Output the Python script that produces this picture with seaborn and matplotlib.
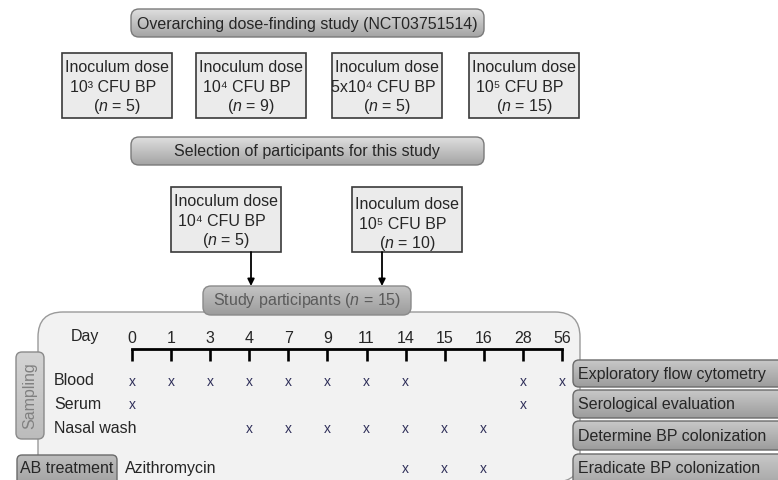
import numpy as np
import matplotlib
matplotlib.use("Agg")
import matplotlib.pyplot as plt
import seaborn as sns
from matplotlib.patches import FancyBboxPatch, Rectangle
from matplotlib.colors import LinearSegmentedColormap

sns.set_style("white")
plt.rcParams['font.family'] = ['Liberation Sans', 'DejaVu Sans']
plt.rcParams['mathtext.fontset'] = 'custom'
plt.rcParams['mathtext.rm'] = 'Liberation Sans'
plt.rcParams['mathtext.it'] = 'Liberation Sans:italic'

# Study content
study_title = "Overarching dose-finding study (NCT03751514)"
selection_title = "Selection of participants for this study"
dose_labels = ["10³", "10⁴", "5x10⁴", "10⁵"]
dose_n = [5, 9, 5, 15]
selected_labels = ["10⁴", "10⁵"]
selected_n = [5, 10]
participants_n = 15

days = ["0", "1", "3", "4", "7", "9", "11", "14", "15", "16", "28", "56"]
sample_types = ["Blood", "Serum", "Nasal wash"]
blood_days = ["0", "1", "3", "4", "7", "9", "11", "14", "28", "56"]
serum_days = ["0", "28"]
nasal_days = ["4", "7", "9", "11", "14", "15", "16"]
azithro_days = ["14", "15", "16"]
purposes = ["Exploratory flow cytometry", "Serological evaluation",
            "Determine BP colonization", "Eradicate BP colonization"]

FS = 11.5
W, H = 778, 481
fig = plt.figure(figsize=(W / 100, H / 100), dpi=100)
ax = fig.add_axes([0, 0, 1, 1])
ax.axis('off')


def pill(x0, y0, x1, y1, top, bottom, edge='#7a7a7a', r=8, z=3):
    patch = FancyBboxPatch((x0, y0), x1 - x0, y1 - y0,
                           boxstyle=f"round,pad=0,rounding_size={r}",
                           fc='none', ec=edge, lw=1, zorder=z + 0.1)
    ax.add_patch(patch)
    cmap = LinearSegmentedColormap.from_list('g', [top, bottom])
    grad = np.linspace(0, 1, 64)[:, None]
    im = ax.imshow(grad, extent=(x0, x1, y1, y0), cmap=cmap, aspect='auto',
                   origin='upper', zorder=z)
    im.set_clip_path(patch)


def dose_box(x0, y0, lines, dy=0):
    ax.add_patch(Rectangle((x0, y0), 110, 65, fc='#ebebeb', ec='#3a3a3a',
                           lw=1.2, zorder=3))
    for i, t in enumerate(lines):
        ax.text(x0 + 55 - (4 if i == 1 else 0), y0 + 14 + dy + i * 19.5, t,
                ha='center', va='center', fontsize=FS, zorder=4)


# top section
pill(131, 10, 484, 38, '#dedede', '#a4a4a4')
ax.text(307, 24, study_title, ha='center', va='center', fontsize=FS, zorder=5)

for x0, lab, n in zip([62, 196, 332, 469], dose_labels, dose_n):
    dose_box(x0, 54, ["Inoculum dose", f"{lab} CFU BP", f"($\\mathit{{n}}$ = {n})"])

pill(131, 138, 484, 166, '#dedede', '#a4a4a4')
ax.text(307, 152, selection_title, ha='center', va='center', fontsize=FS, zorder=5)

for x0, dy, xa, lab, n in zip([171, 352], [0, 3], [251, 382], selected_labels, selected_n):
    dose_box(x0, 188, ["Inoculum dose", f"{lab} CFU BP", f"($\\mathit{{n}}$ = {n})"], dy)
    ax.annotate("", xy=(xa, 287), xytext=(xa, 253),
                arrowprops=dict(arrowstyle='-|>', color='black', lw=1.3,
                                mutation_scale=10, shrinkA=0, shrinkB=0), zorder=4)

# timeline panel
ax.add_patch(FancyBboxPatch((38, 313), 542, 170,
                            boxstyle="round,pad=0,rounding_size=25",
                            fc='#f2f2f2', ec='#9a9a9a', lw=1, zorder=1))
pill(203, 287, 411, 316, '#c4c4c4', '#9c9c9c', edge='#8a8a8a', z=3)
ax.text(307, 301, f"Study participants ($\\mathit{{n}}$ = {participants_n})",
        ha='center', va='center', fontsize=FS, color='#5a5a5a', zorder=5)

pill(16, 353, 44, 440, '#d4d4d4', '#bcbcbc', edge='#8a8a8a', r=6)
ax.text(30, 396, "Sampling", rotation=90, ha='center', va='center',
        fontsize=FS, color='#808080', zorder=5)
ax.text(85, 337, "Day", ha='center', va='center', fontsize=FS, zorder=5)
for lab, y in zip(sample_types, [381, 405, 429]):
    ax.text(54, y, lab, ha='left', va='center', fontsize=FS, zorder=5)

pill(17, 456, 117, 495, '#bdbdbd', '#9a9a9a', edge='#6a6a6a', r=5)
ax.text(20, 469, "AB treatment", ha='left', va='center', fontsize=FS, zorder=5)
ax.text(125, 469, "Azithromycin", ha='left', va='center', fontsize=FS, zorder=5)

for lab, (y0, y1) in zip(purposes, [(361, 388), (391, 419), (422, 451), (455, 495)]):
    pill(573, y0, 790, y1, '#c8c8c8', '#9c9c9c', edge='#6a6a6a', r=6)
    ax.text(578, (y0 + min(y1, 482)) / 2, lab, ha='left', va='center',
            fontsize=FS, zorder=5)

ax.set_xlim(0, W)
ax.set_ylim(H, 0)

# timeline axis: categorical days, y in pixel rows
tl = fig.add_axes([132 / W, (H - 475) / H, 430 / W, 125 / H])
tl.set_facecolor('none')
tl.set_xlim(0, len(days) - 1)
tl.set_ylim(475, 350)
tl.set_xticks(range(len(days)))
tl.set_xticklabels(days, fontsize=FS)
tl.set_yticks([])
for s in ['left', 'right', 'bottom']:
    tl.spines[s].set_visible(False)
tl.spines['top'].set_linewidth(2)
tl.spines['top'].set_color('black')
tl.tick_params(axis='x', top=True, bottom=False, labeltop=True, labelbottom=False,
               direction='in', length=8.5, width=1.9, pad=3, color='black')

for row_days, y in zip([blood_days, serum_days, nasal_days, azithro_days],
                       [382, 405, 429, 469]):
    for d in row_days:
        tl.text(days.index(d), y, "x", ha='center', va='center', fontsize=10,
                color='#30305a', clip_on=False)

fig.savefig("out.png", dpi=100)
